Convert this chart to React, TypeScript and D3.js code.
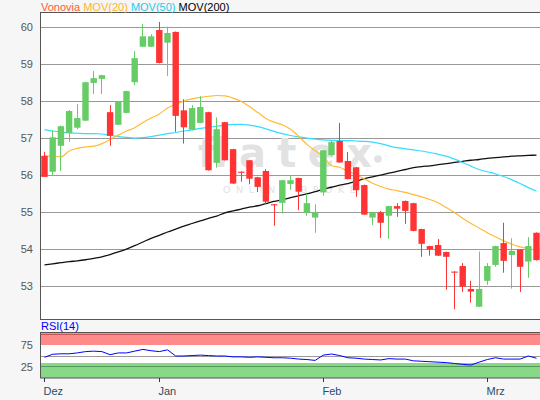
import React from 'react';
import * as d3 from 'd3';

// trading days shown (Xetra), Dec 2020 - Mar 2021
const dates = [
  '2020-12-09', '2020-12-10', '2020-12-11', '2020-12-14', '2020-12-15', '2020-12-16', '2020-12-17',
  '2020-12-18', '2020-12-21', '2020-12-22', '2020-12-23', '2020-12-28', '2020-12-29', '2020-12-30',
  '2021-01-04', '2021-01-05', '2021-01-06', '2021-01-07', '2021-01-08', '2021-01-11', '2021-01-12',
  '2021-01-13', '2021-01-14', '2021-01-15', '2021-01-18', '2021-01-19', '2021-01-20', '2021-01-21',
  '2021-01-22', '2021-01-25', '2021-01-26', '2021-01-27', '2021-01-28', '2021-01-29',
  '2021-02-01', '2021-02-02', '2021-02-03', '2021-02-04', '2021-02-05', '2021-02-08', '2021-02-09',
  '2021-02-10', '2021-02-11', '2021-02-12', '2021-02-15', '2021-02-16', '2021-02-17', '2021-02-18',
  '2021-02-19', '2021-02-22', '2021-02-23', '2021-02-24', '2021-02-25', '2021-02-26',
  '2021-03-01', '2021-03-02', '2021-03-03', '2021-03-04', '2021-03-05', '2021-03-08', '2021-03-09'
];

const open = [
  56.53, 56.10, 56.80, 57.15, 57.29, 57.48, 58.50, 58.61, 57.71, 57.37, 57.69, 58.52, 59.48, 59.48,
  59.93, 59.59, 59.88, 57.76, 57.24, 57.42, 57.71, 56.34, 57.44, 56.71, 56.10, 56.41, 55.95, 56.12,
  55.22, 55.26, 55.77, 55.93, 55.00, 54.86,
  55.54, 56.55, 56.93, 56.39, 56.22, 55.74, 54.86, 55.00, 54.91, 55.17, 55.31, 55.25, 54.55, 54.09,
  54.12, 53.93, 53.40, 53.55, 52.93, 52.45,
  53.15, 53.58, 54.17, 53.85, 54.00, 53.67, 54.45
];
const high = [
  56.64, 57.22, 57.35, 57.77, 57.93, 58.53, 58.82, 58.72, 57.90, 58.01, 58.29, 59.36, 60.09, 59.82,
  60.15, 60.02, 59.89, 58.06, 57.90, 58.14, 57.72, 57.57, 57.45, 56.72, 56.11, 56.42, 55.96, 56.17,
  55.23, 55.88, 55.99, 55.94, 55.50, 55.22,
  56.69, 56.94, 57.42, 56.63, 56.23, 55.75, 55.01, 55.04, 55.18, 55.25, 55.32, 55.26, 54.56, 54.10,
  54.28, 53.94, 53.41, 53.63, 53.15, 53.94,
  53.63, 54.10, 54.72, 54.30, 54.01, 54.33, 54.46
];
const low = [
  55.96, 55.98, 56.12, 56.91, 57.25, 57.47, 58.20, 58.20, 56.80, 57.36, 57.68, 58.44, 59.47, 59.47,
  59.03, 58.69, 57.18, 56.86, 57.22, 57.41, 56.13, 56.21, 56.40, 55.77, 55.83, 55.76, 55.55, 55.23,
  54.64, 54.97, 55.61, 55.06, 54.91, 54.45,
  55.45, 56.52, 56.34, 55.89, 55.42, 54.93, 54.66, 54.31, 54.29, 54.88, 54.69, 54.49, 53.80, 53.83,
  53.82, 52.91, 52.38, 52.85, 52.56, 52.44,
  53.04, 53.53, 53.37, 52.94, 52.85, 53.23, 53.70
];
const close = [
  55.96, 57.03, 57.33, 57.74, 57.55, 58.52, 58.63, 58.71, 57.07, 58.00, 58.28, 59.17, 59.76, 59.76,
  59.04, 59.85, 57.61, 57.30, 57.82, 57.85, 56.14, 57.25, 56.41, 55.78, 56.07, 55.91, 55.69, 55.29,
  55.19, 55.87, 55.87, 55.56, 55.25, 55.00,
  56.68, 56.90, 56.35, 55.90, 55.60, 54.94, 55.00, 54.72, 55.17, 55.10, 55.04, 54.50, 54.15, 54.00,
  53.83, 53.80, 53.37, 52.99, 52.86, 52.93,
  53.55, 54.09, 53.69, 53.96, 53.53, 54.09, 53.71
];

const mov20 = [
  56.53, 56.52, 56.50, 56.66, 56.73, 56.77, 56.79, 56.86, 56.97, 57.09, 57.20, 57.29, 57.43, 57.55,
  57.66, 57.82, 57.92, 58.01, 58.07, 58.11, 58.14, 58.16, 58.15, 58.09, 58.00, 57.86, 57.70, 57.54,
  57.44, 57.37, 57.25, 57.06, 56.84, 56.67,
  56.52, 56.26, 56.22, 56.11, 56.02, 55.91, 55.79, 55.70, 55.63, 55.59, 55.54, 55.48, 55.42, 55.35,
  55.26, 55.13, 55.00, 54.84, 54.70, 54.58,
  54.45, 54.34, 54.23, 54.14, 54.07, 54.02, 53.98
];
const mov50 = [
  57.24, 57.20, 57.17, 57.15, 57.14, 57.13, 57.13, 57.12, 57.08, 57.05, 57.03, 57.01, 57.02, 57.05,
  57.09, 57.13, 57.16, 57.20, 57.23, 57.27, 57.30, 57.33, 57.36, 57.38, 57.38, 57.36, 57.32, 57.26,
  57.19, 57.13, 57.08, 57.04, 57.01, 56.98,
  56.96, 56.95, 56.94, 56.94, 56.93, 56.92, 56.90, 56.86, 56.80, 56.75, 56.72, 56.69, 56.66, 56.62,
  56.57, 56.52, 56.44, 56.35, 56.25, 56.16,
  56.10, 56.04, 55.97, 55.88, 55.78, 55.67, 55.58
];
const mov200 = [
  53.58, 53.61, 53.64, 53.67, 53.69, 53.72, 53.76, 53.80, 53.86, 53.93, 54.01, 54.10, 54.20, 54.30,
  54.38, 54.47, 54.55, 54.63, 54.70, 54.77, 54.84, 54.90, 54.99, 55.04, 55.09, 55.14, 55.18, 55.24,
  55.30, 55.34, 55.40, 55.45, 55.50, 55.56,
  55.63, 55.68, 55.74, 55.78, 55.84, 55.91, 55.96, 56.01, 56.06, 56.11, 56.16, 56.21, 56.24, 56.26,
  56.29, 56.32, 56.35, 56.38, 56.41, 56.43,
  56.46, 56.48, 56.50, 56.52, 56.53, 56.54, 56.55
];
const rsi = [
  47, 54, 55, 55, 57, 60, 61, 60, 53, 57, 57, 61, 65, 62,
  60, 64, 50, 50, 51, 52, 51, 50, 50, 48, 48, 47, 48, 47,
  46, 46, 45, 43, 42, 40,
  52, 54.5, 51, 46, 45, 43, 42, 41, 44, 43, 43, 39, 38, 37,
  36, 35, 33, 31, 29.5, 36,
  42, 46, 43, 43, 43, 50, 45
];

const priceTicks = [53, 54, 55, 56, 57, 58, 59, 60];
const rsiTicks = [25, 75];
const monthTickDates = ['2020-12-09', '2021-01-04', '2021-02-01', '2021-03-01'];
const monthTickLabels = ['Dez', 'Jan', 'Feb', 'Mrz'];

const FONT = 'Arial, "Liberation Sans", sans-serif';
const GREEN = '#66cc66';
const RED = '#ff3333';

const App = () => {
  const x = d3.scalePoint<string>().domain(dates).range([44.5, 536.5]);
  const y = d3.scaleLinear().domain([52.11, 60.41]).range([319.3, 12.3]);
  const yr = d3.scaleLinear().domain([0, 100]).range([378, 334]);
  const bodyW = 6.4;

  const maLine = (vals: number[]) =>
    d3
      .line<number>()
      .x((_, i) => x(dates[i]) as number)
      .y((v) => y(v))
      .curve(d3.curveMonotoneX)(vals) as string;

  const rsiLine = d3
    .line<number>()
    .x((_, i) => x(dates[i]) as number)
    .y((v) => yr(v))(rsi) as string;

  return (
    <svg width={540} height={400} style={{ position: 'absolute', left: 0, top: 0, display: 'block' }}>
      <rect x={0} y={0} width={540} height={400} fill="#f6f6f6" />
      {/* main panel */}
      <rect x={40} y={12} width={500} height={307.5} fill="#ffffff" />
      <defs>
        <clipPath id="main-clip">
          <rect x={40.5} y={12.5} width={500} height={306.5} />
        </clipPath>
      </defs>

      {priceTicks.map((t) => (
        <g key={t}>
          <line x1={40} x2={540} y1={Math.round(y(t)) + 0.5} y2={Math.round(y(t)) + 0.5} stroke="#999" strokeWidth={1} />
          <text x={33} y={y(t)} dy="0.36em" textAnchor="end" fontFamily={FONT} fontSize={11} fill="#555">
            {t}
          </text>
        </g>
      ))}

      {/* watermark */}
      <g fill="#e2e2e2" fontFamily={'"DejaVu Sans", sans-serif'}>
        <text x={198} y={167} fontSize={40} fontWeight="bold" textLength={174} lengthAdjust="spacing">
          flatex
        </text>
        <circle cx={378} cy={159} r={3.8} />
        <text x={223} y={193} fontSize={9.5} textLength={145} lengthAdjust="spacing">
          ONLINE BROKER
        </text>
      </g>

      <g clipPath="url(#main-clip)">
        <path d={maLine(mov200)} fill="none" stroke="#111" strokeWidth={1.3} />
        <path d={maLine(mov50)} fill="none" stroke="#33ddff" strokeWidth={1.2} />
        <path d={maLine(mov20)} fill="none" stroke="#ffbb33" strokeWidth={1.2} />

        {dates.map((d, i) => {
          const cx = x(d) as number;
          const up = close[i] >= open[i];
          const col = up ? GREEN : RED;
          const top = y(Math.max(open[i], close[i]));
          const bot = y(Math.min(open[i], close[i]));
          const wx = Math.floor(cx) + 0.5;
          return (
            <g key={d}>
              <line x1={wx} x2={wx} y1={y(high[i])} y2={y(low[i])} stroke={col} strokeWidth={1} />
              <rect x={cx - bodyW / 2} y={top} width={bodyW} height={Math.max(1, bot - top)} fill={col} />
            </g>
          );
        })}
      </g>

      {/* main panel frame */}
      <line x1={40.5} x2={40.5} y1={12} y2={320} stroke="#555" />
      <line x1={40} x2={540} y1={12.5} y2={12.5} stroke="#555" />
      <line x1={40} x2={540} y1={319.5} y2={319.5} stroke="#555" />

      {/* legend */}
      <text x={41} y={10.5} fontFamily={FONT} fontSize={11}>
        <tspan fill="#ff5a36">Vonovia </tspan>
        <tspan fill="#ffb429">MOV(20) </tspan>
        <tspan fill="#22ccee">MOV(50) </tspan>
        <tspan fill="#000">MOV(200)</tspan>
      </text>

      {/* RSI panel */}
      <text x={41} y={330} fontFamily={FONT} fontSize={11} fill="#0000ff">
        RSI(14)
      </text>
      <rect x={40} y={333} width={500} height={45} fill="#ffffff" />
      <rect x={40} y={333} width={500} height={yr(75) - 333} fill="#ff8a8a" />
      <line x1={40} x2={540} y1={334.5} y2={334.5} stroke="#cc5555" />
      <rect x={40} y={363} width={500} height={378 - 363} fill="#88d888" />
      <line x1={40} x2={540} y1={366.5} y2={366.5} stroke="#55995a" />
      <line x1={40} x2={540} y1={Math.round(yr(50)) + 0.5} y2={Math.round(yr(50)) + 0.5} stroke="#999" />
      {rsiTicks.map((t) => (
        <text key={t} x={33} y={yr(t)} dy="0.36em" textAnchor="end" fontFamily={FONT} fontSize={11} fill="#555">
          {t}
        </text>
      ))}
      <path d={rsiLine} fill="none" stroke="#0000ff" strokeWidth={1} />
      <rect x={40.5} y={332.5} width={500} height={45.5} fill="none" stroke="#555" />

      {/* x axis */}
      {monthTickDates.map((d, i) => {
        const tx = Math.floor(x(d) as number) + 0.5;
        return (
          <g key={d}>
            <line x1={tx} x2={tx} y1={378} y2={382} stroke="#335" />
            <text x={tx - 1} y={395} fontFamily={FONT} fontSize={11} fill="#2f4a66">
              {monthTickLabels[i]}
            </text>
          </g>
        );
      })}
    </svg>
  );
};

export default App;
